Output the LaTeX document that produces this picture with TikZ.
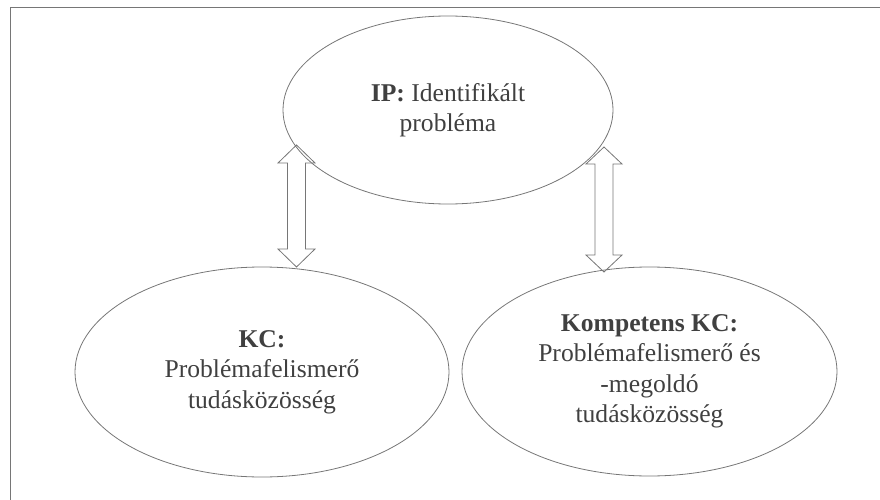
\documentclass[tikz,border=0pt]{standalone}
\usepackage{fontspec}
\setmainfont{Liberation Serif}
\usetikzlibrary{shapes.geometric}
\definecolor{linegray}{RGB}{118,118,118}
\definecolor{textgray}{RGB}{64,64,64}
\begin{document}
\begin{tikzpicture}[x=1pt,y=-1pt,
    arrowbox/.style={draw=linegray,line width=0.8pt,line join=miter}]

        \useasboundingbox (0,0) rectangle (880,500);
        \clip (0,0) rectangle (880,500);

        % frame, open to the right and bottom
        \coordinate (fbl) at (10,520);
        \coordinate (ftl) at (10,7);
        \coordinate (ftr) at (900,7);
        \draw[linegray,line width=0.8pt] (fbl) -- (ftl) -- (ftr);

        \begin{scope}[every node/.style={ellipse,draw=linegray,line width=0.8pt,
            text=textgray,align=center,inner sep=0pt,
            font=\fontsize{25.6}{30.5}\selectfont}]
          \node[minimum width=330pt,minimum height=188pt] (ip) at (448,110)
            {\textbf{IP:} Identifikált\\probléma};
          \node[minimum width=374pt,minimum height=210pt] (kc) at (262,372)
            {\textbf{KC:}\\Problémafelismerő\\tudásközösség};
          \node[minimum width=375pt,minimum height=209pt] (kkc) at (649.5,371.5)
            {\textbf{Kompetens KC:}\\Problémafelismerő és\\-megoldó\\tudásközösség};
        \end{scope}

        % two-way block arrows, tip to tip
        \coordinate (ipkc) at (296.5,145);
        \coordinate (ipkkc) at (604,147);
        \draw[arrowbox] (ipkc) -- ++(18.5,18) -- ++(-9.5,0) -- ++(0,86)
          -- ++(9.5,0) -- ++(-18.5,18) -- ++(-18.5,-18) -- ++(9.5,0)
          -- ++(0,-86) -- ++(-9.5,0) -- cycle;
        \draw[arrowbox] (ipkkc) -- ++(18,17) -- ++(-9,0) -- ++(0,91)
          -- ++(9,0) -- ++(-18,17) -- ++(-18,-17) -- ++(9,0)
          -- ++(0,-91) -- ++(-9,0) -- cycle;

      \end{tikzpicture}
\end{document}
